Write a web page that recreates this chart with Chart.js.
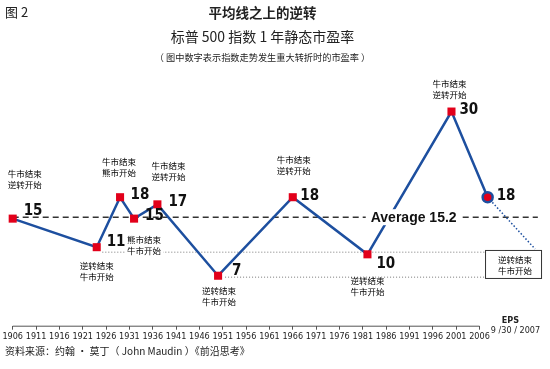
<!DOCTYPE html>
<html>
<head>
<meta charset="utf-8">
<script src="https://cdn.jsdelivr.net/npm/chart.js@4.4.1/dist/chart.umd.min.js"></script>
<style>
    body { margin: 0; background: #fff; }
    #wrap { position: relative; width: 550px; height: 369px; overflow: hidden; font-family: "Noto Sans CJK SC", sans-serif; color: #222; }
    #peChart { position: absolute; left: 0; top: 0; }
    .txt { position: absolute; white-space: nowrap; line-height: 1; }
    #fig { left: 5px; top: 5px; font-size: 13px; }
    #title { left: 0; width: 525px; text-align: center; top: 6px; font-size: 13.5px; font-weight: bold; }
    #subtitle { left: 0; width: 525px; text-align: center; top: 29px; font-size: 14px; }
    #note { left: 0; width: 525px; text-align: center; top: 53px; font-size: 9.2px; }
    #source { left: 5px; top: 346px; font-size: 10px; }
</style>
</head>
<body>
<div id="wrap">
    <canvas id="peChart" width="550" height="369"></canvas>
    <div class="txt" id="fig">图 2</div>
    <div class="txt" id="title">平均线之上的逆转</div>
    <div class="txt" id="subtitle">标普 500 指数 1 年静态市盈率</div>
    <div class="txt" id="note">（ 图中数字表示指数走势发生重大转折时的市盈率 ）</div>
    <div class="txt" id="source">资料来源：约翰 · 莫丁（ John Maudin ）《前沿思考》</div>
</div>
<script>
// turning points of the S&P 500 trailing P/E
const years = [1906, 1924, 1929, 1932, 1937, 1950, 1966, 1982, 2000, 2007.75];
const peValues = [15, 11, 18, 15, 17, 7, 18, 10, 30, 18];
const tickYears = [1906, 1911, 1916, 1921, 1926, 1931, 1936, 1941, 1946, 1951, 1956,
    1961, 1966, 1971, 1976, 1981, 1986, 1991, 1996, 2001, 2006];

const averagePE = 15.2;
const averageSpan = [1906, 2018.5];
const upperGuideYears = [1925.2, 2007.3];
const upperGuideValue = 10.3;
const lowerGuideYears = [1951.5, 2007.3];
const lowerGuideValue = 6.8;
const projectionYears = [2007.75, 2017.9];
const projectionValues = [18, 10.75];

const averageLabel = 'Average 15.2';
const averageLabelYear = 1991.9;
const boxText = ['逆转结束', '牛市开始'];
const epsText = ['EPS', '9 /30 / 2007'];

// text near the turning points, offsets in px from the marker
const notes = [
    { i: 0, text: ['牛市结束', '逆转开始'], dx: 12, dy: -45 },
    { i: 1, text: ['逆转结束', '牛市开始'], dx: 0, dy: 19 },
    { i: 2, text: ['牛市结束', '熊市开始'], dx: -1, dy: -35 },
    { i: 3, text: ['熊市结束', '牛市开始'], dx: 10, dy: 21, bg: true },
    { i: 4, text: ['牛市结束', '逆转开始'], dx: 11, dy: -39 },
    { i: 5, text: ['逆转结束', '牛市开始'], dx: 1, dy: 15 },
    { i: 6, text: ['牛市结束', '逆转开始'], dx: 1, dy: -37 },
    { i: 7, text: ['逆转结束', '牛市开始'], dx: 0, dy: 26 },
    { i: 8, text: ['牛市结束', '逆转开始'], dx: -2, dy: -28 }
];
const valueOffsets = [[11, -8], [10, -5], [10.5, -2], [11, -3], [11, -2], [14, -5], [7.5, -1], [9, 10], [8, -1], [9, -1]];

const BLUE = '#1d4f9f';
const RED = '#e2001a';
const CJK = '"Noto Sans CJK SC", sans-serif';
const NARROW = '"Liberation Sans Narrow", "DejaVu Sans Condensed", sans-serif';

const toXY = (xs, ys) => xs.map((x, i) => ({ x: x, y: Array.isArray(ys) ? ys[i] : ys }));
const last = peValues.length - 1;

const axisLine = {
    id: 'axisLine',
    afterDraw(chart) {
        const ctx = chart.ctx;
        const xs = chart.scales.x;
        const y = chart.chartArea.bottom;
        ctx.save();
        ctx.strokeStyle = '#555';
        ctx.lineWidth = 1;
        ctx.beginPath();
        ctx.moveTo(xs.getPixelForValue(tickYears[0]), y + 0.5);
        ctx.lineTo(xs.getPixelForValue(tickYears[tickYears.length - 1]), y + 0.5);
        ctx.stroke();

        ctx.fillStyle = '#222';
        ctx.textAlign = 'center';
        ctx.textBaseline = 'middle';
        const ex = xs.getPixelForValue(tickYears[tickYears.length - 1]);
        ctx.font = 'bold 9px ' + NARROW;
        ctx.fillText(epsText[0], ex + 31, y - 5);
        ctx.font = '9px ' + NARROW;
        ctx.fillText(epsText[1], ex + 36, y + 5);
        ctx.restore();
    }
};

const labels = {
    id: 'labels',
    afterDatasetsDraw(chart) {
        const ctx = chart.ctx;
        const xs = chart.scales.x;
        const ys = chart.scales.y;
        const pts = chart.getDatasetMeta(0).data;
        ctx.save();

        // average label over the dashed line
        ctx.font = 'bold 14px "Liberation Sans", Arial, sans-serif';
        const ax = xs.getPixelForValue(averageLabelYear);
        const ay = ys.getPixelForValue(averagePE);
        const aw = ctx.measureText(averageLabel).width;
        ctx.fillStyle = '#fff';
        ctx.fillRect(ax - aw / 2 - 5, ay - 8, aw + 10, 16);
        ctx.fillStyle = '#111';
        ctx.textAlign = 'center';
        ctx.textBaseline = 'middle';
        ctx.fillText(averageLabel, ax, ay + 1);

        // value labels
        ctx.font = 'bold 15px ' + NARROW;
        ctx.textAlign = 'left';
        pts.forEach((p, i) => {
            ctx.fillText(String(peValues[i]), p.x + valueOffsets[i][0], p.y + valueOffsets[i][1]);
        });

        // turning point notes
        ctx.font = '8.5px ' + CJK;
        ctx.textAlign = 'center';
        notes.forEach(n => {
            const p = pts[n.i];
            n.text.forEach((t, k) => {
                const tx = p.x + n.dx;
                const ty = p.y + n.dy + k * 11;
                if (n.bg) {
                    const w = ctx.measureText(t).width;
                    ctx.fillStyle = '#fff';
                    ctx.fillRect(tx - w / 2 - 2, ty - 5, w + 4, 10);
                }
                ctx.fillStyle = '#000';
                ctx.fillText(t, tx, ty);
            });
        });

        // box at the end of the projection
        const ex = xs.getPixelForValue(projectionYears[1]);
        const ey = ys.getPixelForValue(projectionValues[1]);
        ctx.fillStyle = '#fff';
        ctx.fillRect(ex - 50, ey + 1, 57, 29);
        ctx.strokeStyle = '#333';
        ctx.lineWidth = 1;
        ctx.strokeRect(ex - 49.5, ey + 1.5, 56, 28);
        ctx.fillStyle = '#000';
        ctx.fillText(boxText[0], ex - 20, ey + 11);
        ctx.fillText(boxText[1], ex - 20, ey + 22);
        ctx.restore();
    }
};

new Chart(document.getElementById('peChart'), {
    type: 'line',
    data: {
        datasets: [
            {
                data: toXY(years, peValues),
                borderColor: BLUE,
                borderWidth: 2.5,
                tension: 0,
                clip: false,
                pointStyle: peValues.map((_, i) => i === last ? 'circle' : 'rect'),
                pointRadius: peValues.map((_, i) => i === last ? 5 : 5.7),
                pointBackgroundColor: RED,
                pointBorderColor: peValues.map((_, i) => i === last ? BLUE : RED),
                pointBorderWidth: peValues.map((_, i) => i === last ? 2.5 : 0),
                order: 0
            },
            {
                data: toXY(projectionYears, projectionValues),
                borderColor: BLUE,
                borderWidth: 1.5,
                borderDash: [1.5, 2],
                pointRadius: 0,
                order: 1
            },
            {
                data: toXY(averageSpan, averagePE),
                borderColor: '#333',
                borderWidth: 1.5,
                borderDash: [6, 4],
                pointRadius: 0,
                order: 2
            },
            {
                data: toXY(upperGuideYears, upperGuideValue),
                borderColor: '#777',
                borderWidth: 1,
                borderDash: [1, 2],
                pointRadius: 0,
                order: 3
            },
            {
                data: toXY(lowerGuideYears, lowerGuideValue),
                borderColor: '#777',
                borderWidth: 1,
                borderDash: [1, 2],
                pointRadius: 0,
                order: 4
            }
        ]
    },
    options: {
        responsive: false,
        animation: false,
        events: [],
        layout: { padding: { left: 12.7, right: 0, top: 83, bottom: 21.3 } },
        plugins: {
            legend: { display: false },
            tooltip: { enabled: false }
        },
        scales: {
            x: {
                type: 'linear',
                min: 1906,
                max: 2019.5,
                afterBuildTicks: s => { s.ticks = tickYears.map(v => ({ value: v })); },
                afterFit: s => { s.height = 22; },
                ticks: {
                    autoSkip: false,
                    maxRotation: 0,
                    padding: 2,
                    color: '#222',
                    font: { family: NARROW, size: 9 },
                    callback: v => String(v)
                },
                grid: { drawOnChartArea: false, drawTicks: true, tickLength: 4, color: '#555' },
                border: { display: false }
            },
            y: {
                display: false,
                min: 0,
                max: 34
            }
        }
    },
    plugins: [axisLine, labels]
});
</script>
</body>
</html>
